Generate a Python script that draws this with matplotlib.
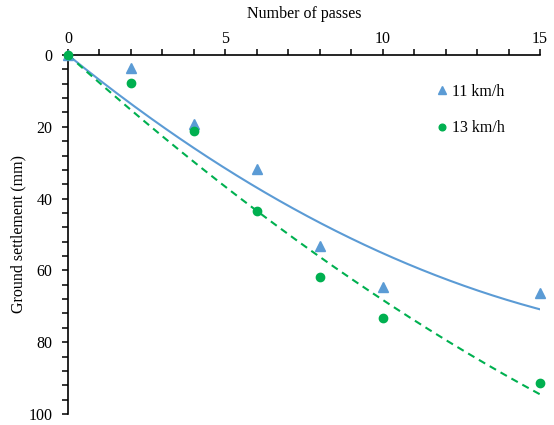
import numpy as np
import matplotlib
matplotlib.use("Agg")
import matplotlib.pyplot as plt
from matplotlib.ticker import MultipleLocator

plt.rcParams['font.family'] = ['Liberation Serif', 'DejaVu Serif']

# passes vs settlement (mm)
passes = [0, 2, 4, 6, 8, 10, 15]
settle_11 = [0, 3.6, 19.2, 31.8, 53.2, 64.6, 66.3]
settle_13 = [0, 7.8, 21.2, 43.5, 61.8, 73.3, 91.4]
labels = ["11 km/h", "13 km/h"]

BLUE = "#5b9bd5"
GREEN = "#00b050"
FS = 11.5


def fit_quad0(x, y):
    """2차 추세선, 절편 0 (Excel 스타일)."""
    x = np.asarray(x, float); y = np.asarray(y, float)
    A = np.column_stack([x, x ** 2])
    coef, *_ = np.linalg.lstsq(A, y, rcond=None)
    return coef


fig = plt.figure(figsize=(5.54, 4.25), dpi=100)
ax = fig.add_axes([0.1227, 0.0259, 0.852, 0.8447])

xx = np.linspace(0, 15, 200)
a, b = fit_quad0(passes, settle_11)
ax.plot(xx, a * xx + b * xx ** 2, "-", color=BLUE, lw=1.5)
a, b = fit_quad0(passes, settle_13)
ax.plot(xx, a * xx + b * xx ** 2, "--", color=GREEN, lw=1.5, dashes=(3.5, 2.5))

h1, = ax.plot(passes, settle_11, "^", color=BLUE, ms=6.5, ls="none",
              label=labels[0], clip_on=False, zorder=5)
h2, = ax.plot(passes, settle_13, "o", color=GREEN, ms=6, ls="none",
              label=labels[1], clip_on=False, zorder=5)

ax.set_xlim(0, 15)
ax.set_ylim(100, 0)
ax.xaxis.set_major_locator(MultipleLocator(5))
ax.xaxis.set_minor_locator(MultipleLocator(1))
ax.yaxis.set_major_locator(MultipleLocator(20))
ax.yaxis.set_minor_locator(MultipleLocator(4))
ax.xaxis.tick_top()
ax.xaxis.set_label_position("top")
for s in ["right", "bottom"]:
    ax.spines[s].set_visible(False)
for s in ["left", "top"]:
    ax.spines[s].set_linewidth(1.2)
ax.tick_params(which="both", direction="out", length=4, width=1.1, labelsize=FS,
               colors="black")
ax.tick_params(axis="x", pad=2)
ax.tick_params(axis="y", pad=7)
ax.set_xlabel("Number of passes", fontsize=FS, labelpad=9)
ax.set_ylabel("Ground settlement (mm)", fontsize=FS, labelpad=2)
ax.patch.set_visible(False)

ax.legend(handles=[h1, h2], loc="upper left", bbox_to_anchor=(0.752, 0.96),
          frameon=False, fontsize=FS, handlelength=0.6, handletextpad=0.3,
          labelspacing=1.3, markerscale=0.8)

fig.savefig("out.png", dpi=100)
